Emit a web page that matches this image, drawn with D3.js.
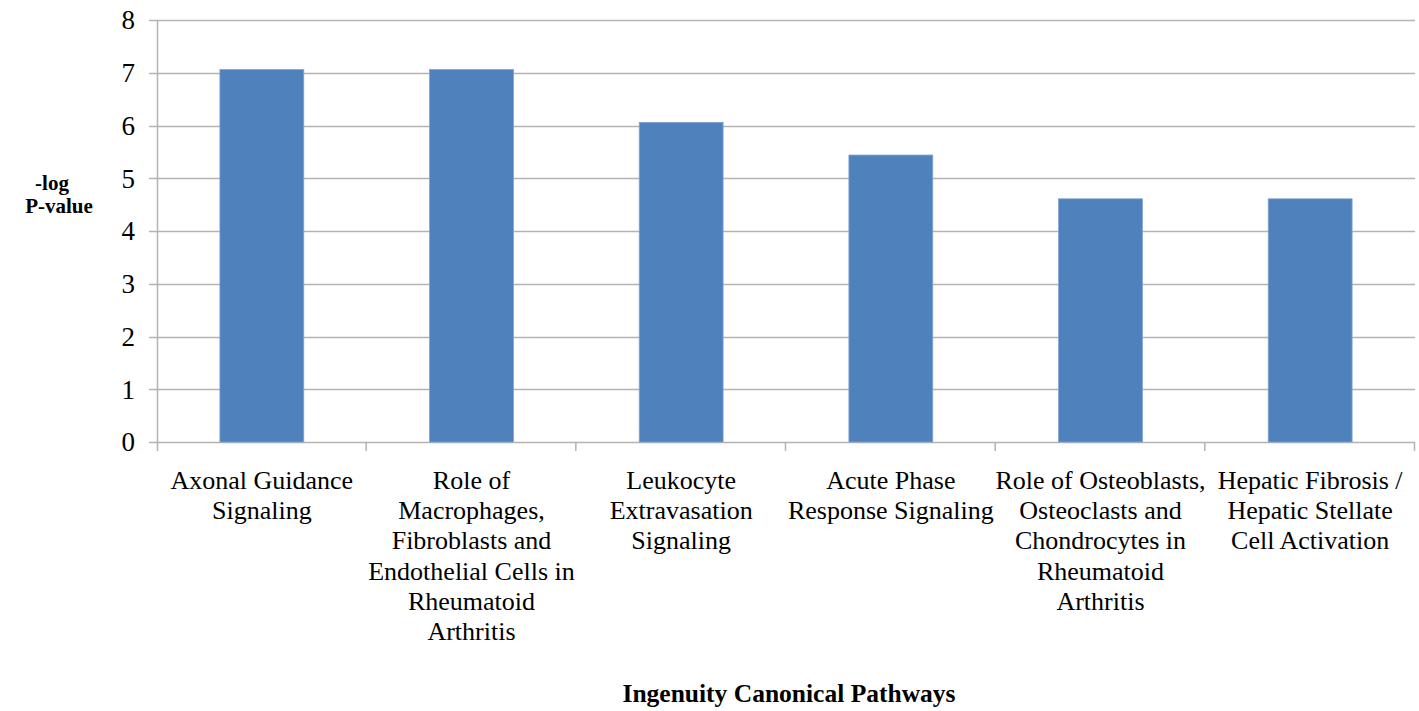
<!DOCTYPE html>
<html>
<head>
<meta charset="utf-8">
<script src="https://cdn.jsdelivr.net/npm/d3@7"></script>
<style>
  html, body { margin: 0; padding: 0; background: #fff; }
  svg { display: block; font-family: "Liberation Serif", "Times New Roman", serif; }
</style>
</head>
<body>
<svg id="chart" width="1419" height="711"></svg>
<script>
// Ingenuity canonical pathways and their significance
const categories = [
  ["Axonal Guidance", "Signaling"],
  ["Role of", "Macrophages,", "Fibroblasts and", "Endothelial Cells in", "Rheumatoid", "Arthritis"],
  ["Leukocyte", "Extravasation", "Signaling"],
  ["Acute Phase", "Response Signaling"],
  ["Role of Osteoblasts,", "Osteoclasts and", "Chondrocytes in", "Rheumatoid", "Arthritis"],
  ["Hepatic Fibrosis /", "Hepatic Stellate", "Cell Activation"]
];
const values = [7.06, 7.06, 6.06, 5.44, 4.61, 4.61];
const yTicks = [0, 1, 2, 3, 4, 5, 6, 7, 8];

const svg = d3.select("#chart");
const margin = { left: 157, right: 4, top: 20, bottom: 269 };
const W = 1419, H = 711;
const x0 = margin.left, x1 = W - margin.right;
const yTop = margin.top, yBot = H - margin.bottom;

const keys = categories.map((c, i) => i);
const x = d3.scaleBand().domain(keys).range([x0, x1]).paddingInner(0).paddingOuter(0);
const y = d3.scaleLinear().domain([0, 8]).range([yBot, yTop]);

const gridColor = "#b3b3b3";

// horizontal gridlines with short left ticks
svg.append("g")
  .selectAll("line")
  .data(yTicks)
  .join("line")
  .attr("x1", x0 - 8)
  .attr("x2", x1)
  .attr("y1", d => Math.round(y(d)) + 0.5)
  .attr("y2", d => Math.round(y(d)) + 0.5)
  .attr("stroke", gridColor)
  .attr("stroke-width", 1.5);

// y tick labels
svg.append("g")
  .selectAll("text")
  .data(yTicks)
  .join("text")
  .attr("x", x0 - 22)
  .attr("y", d => y(d))
  .attr("dy", "0.35em")
  .attr("text-anchor", "end")
  .attr("font-size", 27)
  .attr("fill", "#000")
  .text(d => d);

// vertical axis line
svg.append("line")
  .attr("x1", x0 + 0.5).attr("x2", x0 + 0.5)
  .attr("y1", yTop).attr("y2", yBot + 9)
  .attr("stroke", gridColor).attr("stroke-width", 1.5);

// category boundary ticks below the baseline
svg.append("g")
  .selectAll("line")
  .data(keys.slice(1).concat(["end"]))
  .join("line")
  .attr("x1", d => (d === "end" ? x1 : x(d)) - 0.5)
  .attr("x2", d => (d === "end" ? x1 : x(d)) - 0.5)
  .attr("y1", yBot)
  .attr("y2", yBot + 9)
  .attr("stroke", gridColor)
  .attr("stroke-width", 1.5);

// bars
const barW = x.bandwidth() * 0.4;
svg.append("g")
  .selectAll("rect")
  .data(values)
  .join("rect")
  .attr("x", (d, i) => x(i) + (x.bandwidth() - barW) / 2)
  .attr("y", d => y(d))
  .attr("width", barW)
  .attr("height", d => y(0) - y(d))
  .attr("fill", "#4f81bd")
  .attr("stroke", "#7fa3d3")
  .attr("stroke-width", 0.8);

// category labels
const lab = svg.append("g")
  .selectAll("text")
  .data(categories)
  .join("text")
  .attr("text-anchor", "middle")
  .attr("font-size", 26)
  .attr("fill", "#000");
lab.each(function (lines, i) {
  d3.select(this).selectAll("tspan")
    .data(lines)
    .join("tspan")
    .attr("x", x(i) + x.bandwidth() / 2)
    .attr("y", (d, j) => 489 + j * 30.2)
    .text(d => d);
});

// axis titles
const yTitle = svg.append("text")
  .attr("text-anchor", "middle")
  .attr("font-size", 21)
  .attr("font-weight", "bold")
  .attr("fill", "#000");
yTitle.append("tspan").attr("x", 52).attr("y", 190).text("-log");
yTitle.append("tspan").attr("x", 59).attr("y", 213).text("P-value");

svg.append("text")
  .attr("x", 789)
  .attr("y", 702)
  .attr("text-anchor", "middle")
  .attr("font-size", 25.5)
  .attr("font-weight", "bold")
  .attr("fill", "#000")
  .text("Ingenuity Canonical Pathways");
</script>
</body>
</html>
